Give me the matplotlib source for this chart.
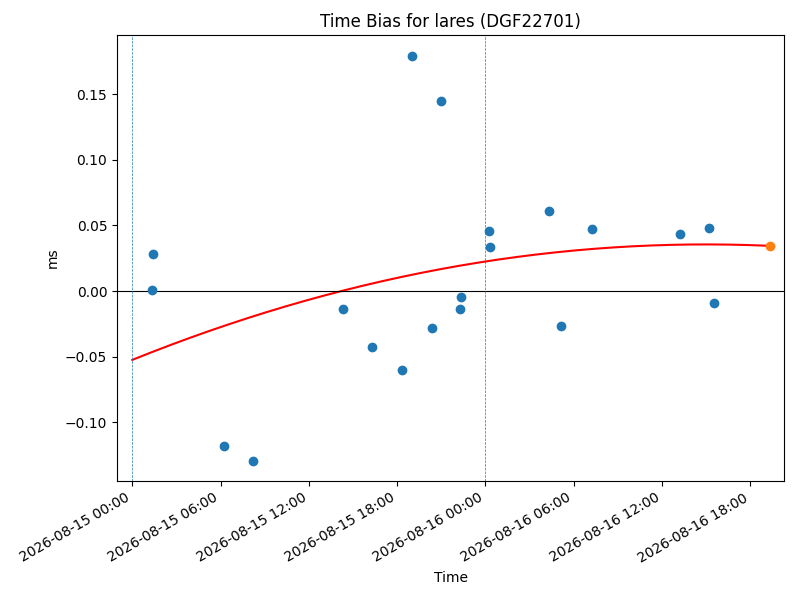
import matplotlib
matplotlib.use("Agg")
import matplotlib.pyplot as plt
import matplotlib.dates as mdates
import numpy as np
import datetime as dt

base = dt.datetime(2026, 8, 15, 0, 0)

# hours after 2026-08-15 00:00 and time bias (ms)
obs_hours = [1.43, 1.36, 6.23, 8.21, 14.34, 16.32, 18.35, 18.99, 20.39, 20.97,
             22.30, 22.37, 24.27, 24.34, 28.35, 29.16, 31.23, 37.25, 39.23, 39.54]
obs_bias = [0.0282, 0.0005, -0.1185, -0.1299, -0.0140, -0.0429, -0.0605, 0.1793,
            -0.0285, 0.1447, -0.0140, -0.0048, 0.0455, 0.0333, 0.0608, -0.0267,
            0.0471, 0.0435, 0.0478, -0.0094]

pred_hours = [43.35]
pred_bias = [0.0343]

# quadratic fit coefficients (bias = a + b*h + c*h^2), hours from base
fit_coef = [-0.0525, 0.004516, -5.79e-5]
fit_range = [0.0, 43.35]

vline_hours = [0.0, 24.0]

def to_dt(hs):
    return [base + dt.timedelta(hours=h) for h in hs]

fig = plt.figure(figsize=(8, 6), dpi=100)
ax = fig.add_axes([0.14625, 0.1983, 0.83375, 0.7434])

ax.scatter(to_dt(obs_hours), obs_bias, color="C0", s=36, zorder=3)
ax.scatter(to_dt(pred_hours), pred_bias, color="C1", s=36, zorder=3)

h = np.linspace(fit_range[0], fit_range[1], 200)
yfit = fit_coef[0] + fit_coef[1] * h + fit_coef[2] * h ** 2
ax.plot(to_dt(h), yfit, color="red", lw=1.5, zorder=2)

ax.axhline(0, color="black", lw=0.8)
for vh in vline_hours:
    ax.axvline(base + dt.timedelta(hours=vh), color="C0", ls="--", lw=0.5)

ax.set_xlim(base + dt.timedelta(hours=-1.04), base + dt.timedelta(hours=44.3))
ax.set_ylim(-0.1449, 0.1953)

ax.xaxis.set_major_locator(mdates.HourLocator(byhour=[0, 6, 12, 18]))
ax.xaxis.set_major_formatter(mdates.DateFormatter("%Y-%m-%d %H:%M"))
for lbl in ax.get_xticklabels():
    lbl.set_rotation(30)
    lbl.set_ha("right")

ax.set_title("Time Bias for lares (DGF22701)")
ax.set_xlabel("Time")
ax.set_ylabel("ms")

fig.savefig("out.png", dpi=100)
